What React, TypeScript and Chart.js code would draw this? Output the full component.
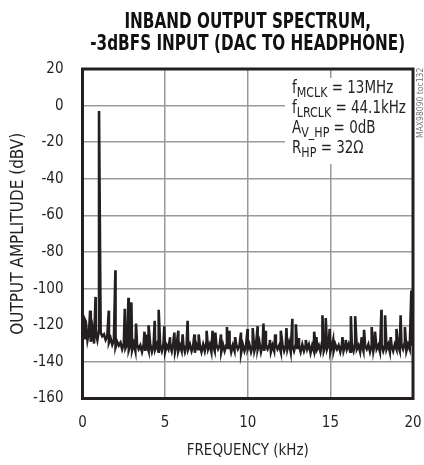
import React, { useEffect, useRef } from "react";
import { Chart, registerables } from "chart.js";

Chart.register(...registerables);

const FONT = '"DejaVu Sans Condensed", "Liberation Sans Narrow", sans-serif';

const titleLines = ["INBAND OUTPUT SPECTRUM,", "-3dBFS INPUT (DAC TO HEADPHONE)"];
const xTitle = "FREQUENCY (kHz)";
const yTitle = "OUTPUT AMPLITUDE (dBV)";
const watermark = "MAX98090 toc132";

const xMin = 0;
const xMax = 20;
const xStep = 5;
const yMin = -160;
const yMax = 20;
const yStep = 20;

// noise floor, sampled every 0.1 kHz from 0 kHz
const noiseStartKHz = 0;
const noiseStepKHz = 0.1;
const noiseLevels = [
  -121, -127, -118, -128, -123, -129, -122, -130, -124, -128,
  -122, -124, -126, -125, -128, -126, -129.5, -127, -130.5, -128,
  -132, -129, -131, -129.5, -133, -130, -132.5, -130.5, -133.5, -130.5,
  -133.5, -130, -134, -130.5, -133, -131, -134.5, -130.5, -134, -131,
  -134, -130.5, -134.5, -131, -133, -130.5, -134.5, -131, -134, -130,
  -134.5, -131, -133, -130.5, -134, -129, -134.5, -130.5, -134, -131,
  -134, -130.5, -134.5, -131, -133, -130.5, -134, -131, -135, -130.5,
  -133, -131, -134.5, -130.5, -134, -129, -133, -130.5, -134.5, -131,
  -134, -130.5, -133, -131, -134.5, -130.5, -134, -131, -133, -129.5,
  -134.5, -131, -134, -130.5, -133, -131, -135, -130.5, -134, -131,
  -133, -130.5, -134.5, -131, -134, -130.5, -133, -129, -134.5, -130.5,
  -134, -131, -133, -130.5, -134.5, -131, -134, -130.5, -133, -131,
  -134.5, -130.5, -134, -131, -133, -129.5, -134.5, -131, -134, -130.5,
  -133, -131, -134.5, -130.5, -134, -131, -133, -130.5, -135, -131,
  -134, -130.5, -133, -131, -134.5, -129, -134, -131, -133, -130.5,
  -134.5, -131, -134, -130.5, -133, -131, -134.5, -130.5, -134, -131,
  -133, -130.5, -134.5, -131, -134, -129.5, -133, -131, -134.5, -130.5,
  -134, -131, -133, -130.5, -134.5, -131, -134, -129, -133, -131,
  -134.5, -130.5, -134, -131, -133, -130.5, -134.5, -131, -134, -130.5,
  -133, -131, -134, -130.5, -133, -129.5, -134, -130.5, -133, -130.5,
  -130,
];

// harmonic / spurious peaks
const peakFreqs = [
  0.15, 0.46, 0.79, 1.0, 1.59, 1.99, 2.56, 2.78, 2.96, 3.24,
  3.75, 3.89, 4.0, 4.37, 4.61, 4.95, 5.3, 5.56, 5.8, 6.06,
  6.36, 6.77, 7.03, 7.51, 7.87, 8.04, 8.38, 8.74, 8.88, 9.24,
  9.59, 9.99, 10.3, 10.6, 10.95, 11.1, 11.34, 11.66, 12.0, 12.34,
  12.7, 12.91, 13.05, 13.51, 14.02, 14.16, 14.52, 14.72, 14.96, 15.17,
  15.73, 15.93, 16.24, 16.5, 16.9, 17.04, 17.5, 17.7, 18.09, 18.31,
  18.65, 19.0, 19.25, 19.51, 19.9,
];
const peakLevels = [
  -117, -112, -104.5, -3, -112, -90, -111, -105, -107.5, -119,
  -123.5, -125, -120, -117.5, -111.5, -120.5, -126.5, -124, -123, -125,
  -117.5, -125, -125, -123, -123, -124, -125, -121, -123, -126.5,
  -124, -122, -121.5, -120.5, -119, -123, -128, -125, -123, -121.5,
  -116.5, -119.5, -127, -128, -123.5, -126.5, -114.5, -116, -122, -128,
  -126.5, -128, -115, -115, -126.5, -122.5, -121, -123.5, -111.5, -114.5,
  -126.5, -122, -114.5, -121, -101,
];

// annotation: [main, subscript, rest]
const annotationLines: [string, string, string][] = [
  ["f", "MCLK", " = 13MHz"],
  ["f", "LRCLK", " = 44.1kHz"],
  ["A", "V_HP", " = 0dB"],
  ["R", "HP", " = 32Ω"],
];

const INK = "#231f20";
const TEXT = "#231f20";

function drawScaled(ctx: CanvasRenderingContext2D, text: string, x: number, y: number, sx: number) {
  ctx.save();
  ctx.translate(x, y);
  ctx.scale(sx, 1);
  ctx.fillText(text, 0, 0);
  const w = ctx.measureText(text).width * sx;
  ctx.restore();
  return w;
}

const overlayPlugin = {
  id: "overlay",
  afterDraw(chart: any) {
    const ctx = chart.ctx as CanvasRenderingContext2D;
    const a = chart.chartArea;
    ctx.save();

    // annotation box
    ctx.fillStyle = "#ffffff";
    ctx.fillRect(a.right - 128, a.top + 9, 128, 86);
    ctx.fillStyle = "#231f20";
    ctx.textBaseline = "alphabetic";
    ctx.textAlign = "left";
    const sx = 0.88;
    annotationLines.forEach((ln, i) => {
      const base = a.top + 24 + i * 20;
      let x = a.right - 121;
      ctx.font = `17px ${FONT}`;
      x += drawScaled(ctx, ln[0], x, base, sx);
      ctx.font = `14px ${FONT}`;
      x += drawScaled(ctx, ln[1], x, base + 4, sx);
      ctx.font = `17px ${FONT}`;
      drawScaled(ctx, ln[2], x, base, sx);
    });

    // frame
    ctx.strokeStyle = INK;
    ctx.lineWidth = 3;
    ctx.strokeRect(a.left, a.top, a.right - a.left, a.bottom - a.top);

    // title
    ctx.fillStyle = "#111111";
    ctx.textAlign = "center";
    ctx.font = `bold 22px ${FONT}`;
    const cx = (a.left + a.right) / 2;
    const tsx = 0.77;
    drawScaled(ctx, titleLines[0], cx, 28, tsx);
    drawScaled(ctx, titleLines[1], cx, 50, tsx);

    // watermark
    ctx.translate(a.right + 7.5, a.top + 69);
    ctx.rotate(-Math.PI / 2);
    ctx.font = `8.5px ${FONT}`;
    ctx.fillStyle = "#777777";
    ctx.textAlign = "left";
    ctx.textBaseline = "middle";
    ctx.fillText(watermark, 0, 0);
    ctx.restore();
  },
};

export default function App() {
  const ref = useRef<HTMLCanvasElement | null>(null);

  useEffect(() => {
    document.body.style.margin = "0";
    const canvas = ref.current;
    if (!canvas) return;

    const points = [
      ...noiseLevels.map((y, i) => ({ x: noiseStartKHz + i * noiseStepKHz, y })),
      ...peakFreqs.map((x, i) => ({ x, y: peakLevels[i] })),
    ].sort((p, q) => p.x - q.x);

    const tickFont = { family: FONT, size: 15 };
    const chart = new Chart(canvas, {
      type: "scatter",
      data: {
        datasets: [
          {
            data: points,
            showLine: true,
            borderColor: INK,
            borderWidth: 2.6,
            pointRadius: 0,
            tension: 0,
          },
        ],
      },
      options: {
        animation: false,
        responsive: false,
        layout: { padding: { top: 69, right: 11, left: 0, bottom: 0 } },
        plugins: { legend: { display: false }, tooltip: { enabled: false } },
        scales: {
          x: {
            type: "linear",
            min: xMin,
            max: xMax,
            ticks: { stepSize: xStep, padding: 0, color: TEXT, font: tickFont, maxRotation: 0 },
            grid: { color: "#999999", lineWidth: 1.5, drawTicks: true, tickLength: 16, tickColor: "rgba(0,0,0,0)" },
            border: { display: false },
            title: { display: true, text: xTitle, color: TEXT, font: { family: FONT, size: 15 }, padding: { top: 0, bottom: 5 } },
            afterFit: (s: any) => {
              s.height = 66.5;
            },
          },
          y: {
            type: "linear",
            min: yMin,
            max: yMax,
            ticks: { stepSize: yStep, padding: 0, color: TEXT, font: tickFont },
            grid: { color: "#999999", lineWidth: 1.5, drawTicks: true, tickLength: 19, tickColor: "rgba(0,0,0,0)" },
            border: { display: false },
            title: { display: true, text: yTitle, color: TEXT, font: { family: FONT, size: 17 }, padding: { top: 8, bottom: 0 } },
            afterFit: (s: any) => {
              s.width = 82.5;
            },
          },
        },
      },
      plugins: [overlayPlugin],
    } as any);

    return () => chart.destroy();
  }, []);

  return (
    <div style={{ width: 424, height: 465, background: "#fff" }}>
      <canvas ref={ref} width={424} height={465} style={{ display: "block" }} />
    </div>
  );
}
